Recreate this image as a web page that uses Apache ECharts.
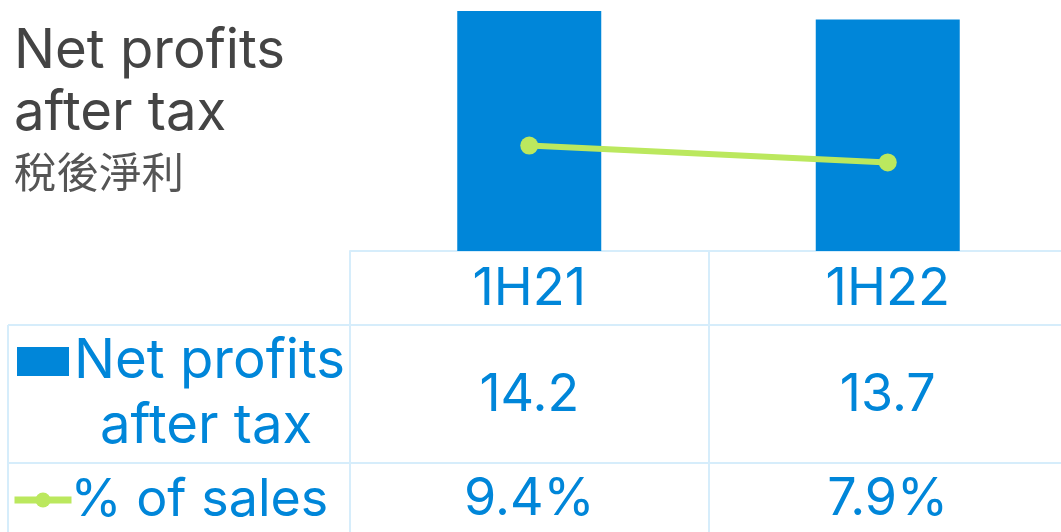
<!DOCTYPE html>
<html>
<head>
<meta charset="utf-8">
<script src="https://cdn.jsdelivr.net/npm/echarts@6/dist/echarts.min.js"></script>
<style>
html,body{margin:0;padding:0;background:#fff;}
#chart{width:1061px;height:532px;}
</style>
</head>
<body>
<div id="chart"></div>
<script>
// ---- data ----
const categories = ['1H21', '1H22'];
const netProfits = [14.2, 13.7];
const pctOfSales = [9.4, 7.9];
const seriesNames = ['Net profits after tax', '% of sales'];
const titleLines = ['Net profits', 'after tax'];
const titleZh = '稅後淨利';

// ---- style ----
const BLUE = '#0086D9';
const LIME = '#BBE85E';
const GRIDC = '#D6EDFB';
const FONT = 'Inter, "Noto Sans", sans-serif';

const chart = echarts.init(document.getElementById('chart'), null, {renderer: 'canvas'});

const valueLabel = (arr, fmt) => ({
  show: true,
  margin: 0,
  fontFamily: FONT,
  fontSize: 52,
  lineHeight: 52,
  color: BLUE,
  formatter: (v, i) => fmt(arr[i])
});

const option = {
  backgroundColor: '#fff',
  animation: false,
  title: {
    text: titleLines.join('\n'),
    subtext: titleZh,
    left: 14,
    top: 21,
    padding: 0,
    itemGap: 6,
    textStyle: {fontFamily: FONT, fontSize: 54.5, lineHeight: 62, fontWeight: 'normal', color: '#444444'},
    subtextStyle: {fontFamily: '"Noto Sans CJK TC", sans-serif', fontSize: 42.5, lineHeight: 42.5, color: '#555555'}
  },
  legend: [
    {
      data: [{name: seriesNames[0], icon: 'path://M0,0h52v29h-52z M0,94'}],
      left: 17, top: 329, padding: 0,
      itemWidth: 52, itemHeight: 94, itemGap: 0,
      selectedMode: false,
      formatter: () => '{a|Net profits}\n{b|after tax}',
      textStyle: {
        color: BLUE, fontFamily: FONT, fontSize: 54.5, lineHeight: 65,
        rich: {
          a: {color: BLUE, fontFamily: FONT, fontSize: 54.5, lineHeight: 65},
          b: {color: BLUE, fontFamily: FONT, fontSize: 54.5, lineHeight: 65, padding: [0, 0, 0, 26]}
        }
      }
    },
    {
      data: [{name: seriesNames[1]}],
      left: 11, top: 474, padding: 0,
      itemWidth: 57, itemHeight: 19,
      selectedMode: false,
      lineStyle: {width: 7},
      textStyle: {color: BLUE, fontFamily: FONT, fontSize: 52, lineHeight: 52, padding: [0, 0, 0, -6]}
    }
  ],
  grid: {left: 350, width: 717, top: 11, height: 240, containLabel: false, outerBoundsMode: 'none'},
  xAxis: [
    {
      type: 'category', data: categories, position: 'bottom',
      axisLine: {show: true, lineStyle: {color: GRIDC, width: 2}},
      axisTick: {show: true, length: 300, lineStyle: {color: GRIDC, width: 2}},
      axisLabel: {show: true, margin: 12, fontFamily: FONT, fontSize: 52.5, lineHeight: 52, color: BLUE}
    },
    {
      type: 'category', data: categories, position: 'bottom',
      axisLine: {show: false}, axisTick: {show: false},
      axisLabel: Object.assign(valueLabel(netProfits, v => v.toFixed(1)), {margin: 118})
    },
    {
      type: 'category', data: categories, position: 'bottom',
      axisLine: {show: false}, axisTick: {show: false},
      axisLabel: Object.assign(valueLabel(pctOfSales, v => v.toFixed(1) + '%'), {margin: 222})
    }
  ],
  yAxis: [
    {type: 'value', min: 0, max: 14.2, show: false, splitLine: {show: false}},
    {type: 'value', min: 0, max: 21.4, show: false, splitLine: {show: false}}
  ],
  graphic: [
    {type: 'line', shape: {x1: 8, y1: 325, x2: 1061, y2: 325}, style: {stroke: GRIDC, lineWidth: 2}, silent: true},
    {type: 'line', shape: {x1: 8, y1: 463, x2: 1061, y2: 463}, style: {stroke: GRIDC, lineWidth: 2}, silent: true},
    {type: 'line', shape: {x1: 8, y1: 325, x2: 8, y2: 540}, style: {stroke: GRIDC, lineWidth: 2}, silent: true}
  ],
  series: [
    {
      name: seriesNames[0], type: 'bar', data: netProfits,
      xAxisIndex: 0, yAxisIndex: 0,
      barWidth: 144,
      itemStyle: {color: BLUE}
    },
    {
      name: seriesNames[1], type: 'line', data: pctOfSales,
      xAxisIndex: 0, yAxisIndex: 1,
      symbol: 'circle', symbolSize: 18,
      lineStyle: {color: LIME, width: 6},
      itemStyle: {color: LIME},
      z: 5
    }
  ]
};
chart.setOption(option);
</script>
</body>
</html>
